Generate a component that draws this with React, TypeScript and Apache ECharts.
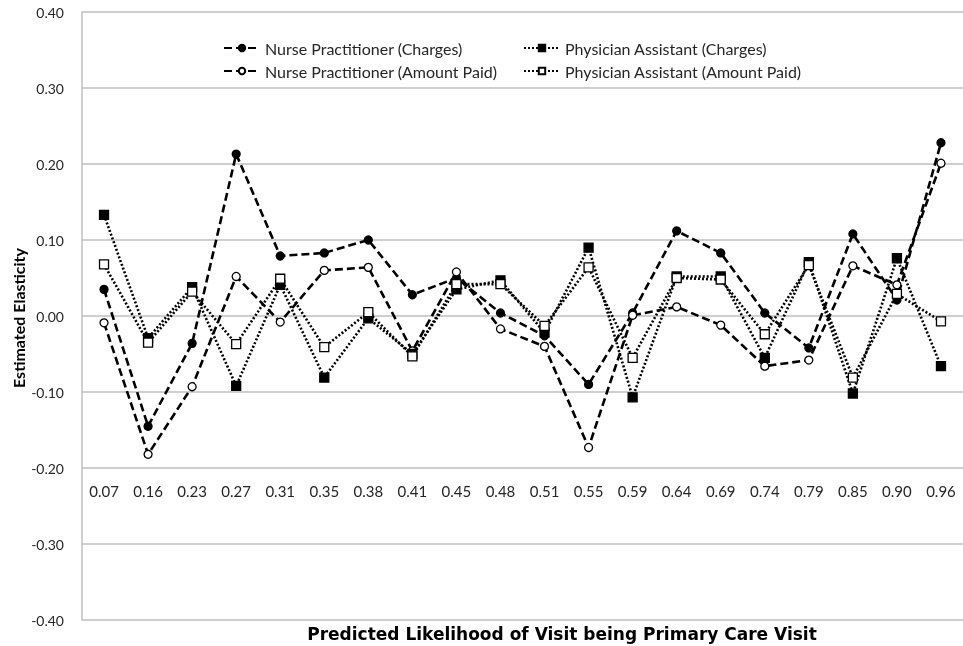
import React, { useEffect, useRef } from "react";
import * as echarts from "echarts";

const categories = ["0.07","0.16","0.23","0.27","0.31","0.35","0.38","0.41","0.45","0.48","0.51","0.55","0.59","0.64","0.69","0.74","0.79","0.85","0.90","0.96"];
const npCharges = [0.035,-0.145,-0.036,0.213,0.079,0.083,0.100,0.028,0.050,0.004,-0.026,-0.090,0.004,0.112,0.083,0.004,-0.042,0.108,0.021,0.228];
const npPaid = [-0.009,-0.182,-0.093,0.052,-0.008,0.060,0.064,-0.046,0.058,-0.017,-0.040,-0.173,0.001,0.012,-0.012,-0.066,-0.058,0.066,0.041,0.201];
const paCharges = [0.133,-0.029,0.038,-0.092,0.041,-0.081,-0.003,-0.050,0.035,0.047,-0.022,0.090,-0.107,0.052,0.052,-0.055,0.071,-0.102,0.076,-0.066];
const paPaid = [0.068,-0.035,0.032,-0.037,0.049,-0.041,0.005,-0.053,0.042,0.042,-0.013,0.064,-0.055,0.050,0.048,-0.024,0.067,-0.081,0.029,-0.007];

const FONT = "Lato, 'Open Sans', sans-serif";

export default function App() {
  const ref = useRef<HTMLDivElement>(null);
  useEffect(() => {
    if (!ref.current) return;
    const chart = echarts.init(ref.current, null, { renderer: "svg" });
    const mk = (name: string, data: number[], dash: any, width: number, symbol: string, filled: boolean, size: number) => ({
      name,
      type: "line",
      data,
      symbol,
      symbolSize: size,
      showAllSymbol: true,
      lineStyle: { color: "#000", width, type: dash },
      itemStyle: { color: filled ? "#000" : "#fff", borderColor: "#000", borderWidth: 1.3 },
      z: 3,
    });
    chart.setOption({
      animation: false,
      textStyle: { fontFamily: FONT },
      grid: { left: 82, top: 12, height: 608, width: 889, containLabel: false },
      legend: [
        {
          left: 218, top: 35, orient: "vertical", itemGap: 7, itemWidth: 36, itemHeight: 8,
          textStyle: { fontFamily: FONT, fontSize: 16, color: "#262626" },
          data: ["Nurse Practitioner (Charges)", "Nurse Practitioner (Amount Paid)"],
        },
        {
          left: 518, top: 35, orient: "vertical", itemGap: 7, itemWidth: 36, itemHeight: 8,
          textStyle: { fontFamily: FONT, fontSize: 16, color: "#262626" },
          data: ["Physician Assistant (Charges)", "Physician Assistant (Amount Paid)"],
        },
      ],
      xAxis: {
        type: "category",
        data: categories,
        boundaryGap: true,
        offset: -152,
        axisLine: { show: false },
        axisTick: { show: false },
        axisLabel: { fontFamily: FONT, fontSize: 15, color: "#262626", margin: 15, interval: 0 },
        splitLine: { show: false },
      },
      yAxis: {
        type: "value",
        min: -0.4,
        max: 0.4,
        interval: 0.1,
        axisLine: { show: true, lineStyle: { color: "#bfbfbf", width: 1.5 } },
        axisTick: { show: false },
        axisLabel: { fontFamily: FONT, fontSize: 14, color: "#262626", margin: 18, formatter: (v: number) => v.toFixed(2) },
        splitLine: { show: true, lineStyle: { color: "#bfbfbf", width: 1.5 } },
      },
      graphic: [
        {
          type: "text", x: 562, y: 634,
          style: { text: "Predicted Likelihood of Visit being Primary Care Visit", fontFamily: "'DejaVu Sans', sans-serif", fontSize: 17, fontWeight: "bold", fill: "#000", align: "center", verticalAlign: "middle" },
        },
        {
          type: "text", x: 18, y: 318, rotation: Math.PI / 2,
          style: { text: "Estimated Elasticity", fontFamily: FONT, fontSize: 16, fontWeight: "bold", fill: "#000", align: "center", verticalAlign: "middle" },
        },
      ],
      series: [
        mk("Nurse Practitioner (Charges)", npCharges, [8, 4], 2.6, "circle", true, 8),
        mk("Nurse Practitioner (Amount Paid)", npPaid, [8, 4], 2.6, "circle", false, 8),
        mk("Physician Assistant (Charges)", paCharges, [2, 2], 2.6, "rect", true, 9),
        mk("Physician Assistant (Amount Paid)", paPaid, [2, 2], 2.6, "rect", false, 9),
      ],
    });
    return () => chart.dispose();
  }, []);
  return <div ref={ref} style={{ position: "fixed", left: 0, top: 0, width: 963, height: 646 }} />;
}
